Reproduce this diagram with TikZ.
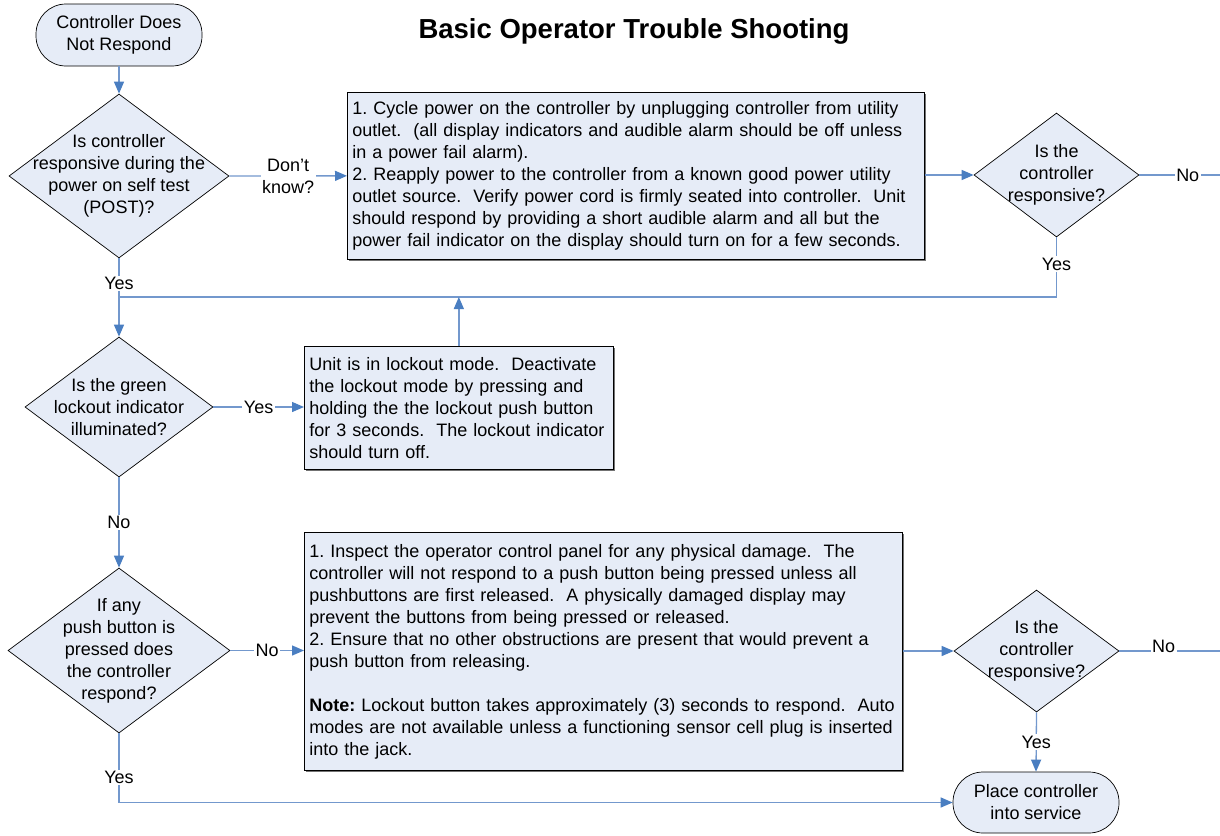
\documentclass[tikz,border=0pt]{standalone}
\usepackage{fontspec}
\setmainfont{Liberation Sans}
\usetikzlibrary{shapes.geometric,arrows.meta,shadows}
\definecolor{boxfill}{RGB}{230,236,247}
\definecolor{linkblue}{RGB}{115,152,205}
\definecolor{tipblue}{RGB}{74,126,193}
\frenchspacing
\hyphenpenalty=10000
\exhyphenpenalty=10000
\begin{document}
\begin{tikzpicture}[x=1pt, y=-1pt,
  font=\fontsize{18pt}{22pt}\selectfont,
  dia/.style={diamond, draw=black, line width=0.7pt, fill=boxfill, inner sep=0pt},
  diatext/.style={align=center, inner sep=0pt},
  term/.style={rectangle, rounded corners=30pt, draw=black, line width=0.7pt, fill=boxfill,
    align=center, inner sep=0pt},
  stepbox/.style={rectangle, draw=black, line width=0.7pt, fill=boxfill, align=left,
    inner sep=5pt, anchor=north west,
    drop shadow={shadow xshift=1.6pt, shadow yshift=-1.6pt, fill=black!55, opacity=1}},
  link/.style={draw=linkblue, line width=1.3pt},
  arr/.style={link, -{Triangle[length=12pt, width=10pt, color=tipblue]}},
  lbl/.style={fill=white, inner sep=1.5pt, align=center}]
\useasboundingbox (0,0) rectangle (1220,835);

% title
\node[font=\bfseries\fontsize{27.5pt}{32pt}\selectfont] (title) at (634,31)
  {Basic Operator Trouble Shooting};

% start and end terminals
\node[term, minimum width=166pt, minimum height=62pt] (t1) at (119,35)
  {Controller Does\\Not Respond};
\node[term, minimum width=166pt, minimum height=61pt] (t2) at (1036,802.5)
  {Place controller\\into service};

% decisions
\node[dia, minimum width=220pt, minimum height=164pt] (d1) at (119,176) {};
\node[diatext] (d1t) at (d1) {Is controller\\responsive during the\\power on self test\\(POST)?};

\node[dia, minimum width=165pt, minimum height=124pt] (d2) at (1056.5,175) {};
\node[diatext] (d2t) at (d2) {Is the\\controller\\responsive?};

\node[dia, minimum width=188pt, minimum height=140pt] (d3) at (119,407) {};
\node[diatext] (d3t) at (d3) {Is the green\\lockout indicator\\illuminated?};

\node[dia, minimum width=222pt, minimum height=165pt] (d4) at (119,650.5) {};
\node[diatext] (d4t) at (d4) {If any\\push button is\\pressed does\\the controller\\respond?};

\node[dia, minimum width=165pt, minimum height=122pt] (d5) at (1036.5,651) {};
\node[diatext] (d5t) at (d5) {Is the\\controller\\responsive?};

% action boxes
\node[stepbox, text width=567pt, minimum height=167pt] (b1) at (347,92)
  {1. Cycle power on the controller by unplugging controller from utility\\
   outlet.~ (all display indicators and audible alarm should be off unless\\
   in a power fail alarm).\\
   2. Reapply power to the controller from a known good power utility\\
   outlet source.~ Verify power cord is firmly seated into controller.~ Unit\\
   should respond by providing a short audible alarm and all but the\\
   power fail indicator on the display should turn on for a few seconds.};

\node[stepbox, text width=299pt, minimum height=123pt] (b2) at (304,346)
  {Unit is in lockout mode.~ Deactivate\\
   the lockout mode by pressing and\\
   holding the the lockout push button\\
   for 3 seconds.~ The lockout indicator\\
   should turn off.};

\node[stepbox, text width=588pt, minimum height=238pt] (b3) at (304,532)
  {1. Inspect the operator control panel for any physical damage.~ The\\
   controller will not respond to a push button being pressed unless all\\
   pushbuttons are first released.~ A physically damaged display may\\
   prevent the buttons from being pressed or released.\\
   2. Ensure that no other obstructions are present that would prevent a\\
   push button from releasing.\\[22pt]
   \textbf{Note:} Lockout button takes approximately (3) seconds to respond.~ Auto\\
   modes are not available unless a functioning sensor cell plug is inserted\\
   into the jack.};

% junction points
\coordinate (j1) at (119,297);
\coordinate (j2) at (d2.south |- j1);
\coordinate (j3) at (119,802.5);
\coordinate (e1) at (1220,175);
\coordinate (e2) at (1220,651);

% connectors
\draw[arr] (t1.south) -- (d1.north);
\draw[arr] (d1.east) -- node[lbl] {Don’t\\know?} (b1.west);
\draw[arr] (b1.east |- d2.west) -- (d2.west);
\draw[link] (d2.east) -- node[lbl, pos=0.6] {No} (e1);
\draw[link] (d2.south) -- node[lbl, pos=0.45] {Yes} (j2) -- (j1);
\draw[link] (d1.south) -- node[lbl, pos=0.65] {Yes} (j1);
\draw[arr] (j1) -- (d3.north);
\draw[arr] (b2.north) -- (b2.north |- j1);
\draw[arr] (d3.east) -- node[lbl] {Yes} (b2.west |- d3.east);
\draw[arr] (d3.south) -- node[lbl] {No} (d4.north);
\draw[arr] (d4.east) -- node[lbl] {No} (b3.west |- d4.east);
\draw[arr] (b3.east |- d5.west) -- (d5.west);
\draw[link] (d5.east) -- node[lbl, pos=0.44, yshift=5pt] {No} (e2);
\draw[arr] (d5.south) -- node[lbl] {Yes} (t2.north);
\draw[link] (d4.south) -- node[lbl, pos=0.64] {Yes} (j3);
\draw[arr] (j3) -- (t2.west);
\end{tikzpicture}
\end{document}
